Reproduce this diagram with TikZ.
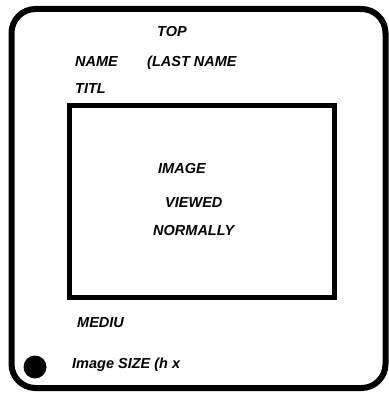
\documentclass[tikz,border=0pt]{standalone}
\usepackage{fontspec}
\setmainfont{Liberation Sans}
\usepackage{tikz}
\tikzset{lbl/.style={anchor=base west,inner sep=0pt,font=\fontsize{14.5}{16}\selectfont\bfseries\itshape}}

\begin{document}
\begin{tikzpicture}[x=1pt,y=-1pt]
\useasboundingbox (0,0) rectangle (388,395);
% slide mount and window
\draw[line width=6pt,rounded corners=24pt] (11.5,9) rectangle (385.5,388);
\draw[line width=5pt] (69.5,106) rectangle (334.5,297.5);
\fill (35,367) circle (11.5);

\node[lbl] (top) at (157,37) {TOP};
\node[lbl] (name) at (75,67) {NAME};
\node[lbl] (last) at (147,67) {(LAST NAME};
\node[lbl] (titl) at (75,94) {TITL};

\node[lbl] (image) at (158,173) {IMAGE};
\node[lbl] (viewed) at (165,207) {VIEWED};
\node[lbl] (norm) at (153,235) {NORMALLY};

\node[lbl] (mediu) at (77,327) {MEDIU};
\node[lbl] (size) at (72,368) {Image SIZE (h x};
\end{tikzpicture}
\end{document}
